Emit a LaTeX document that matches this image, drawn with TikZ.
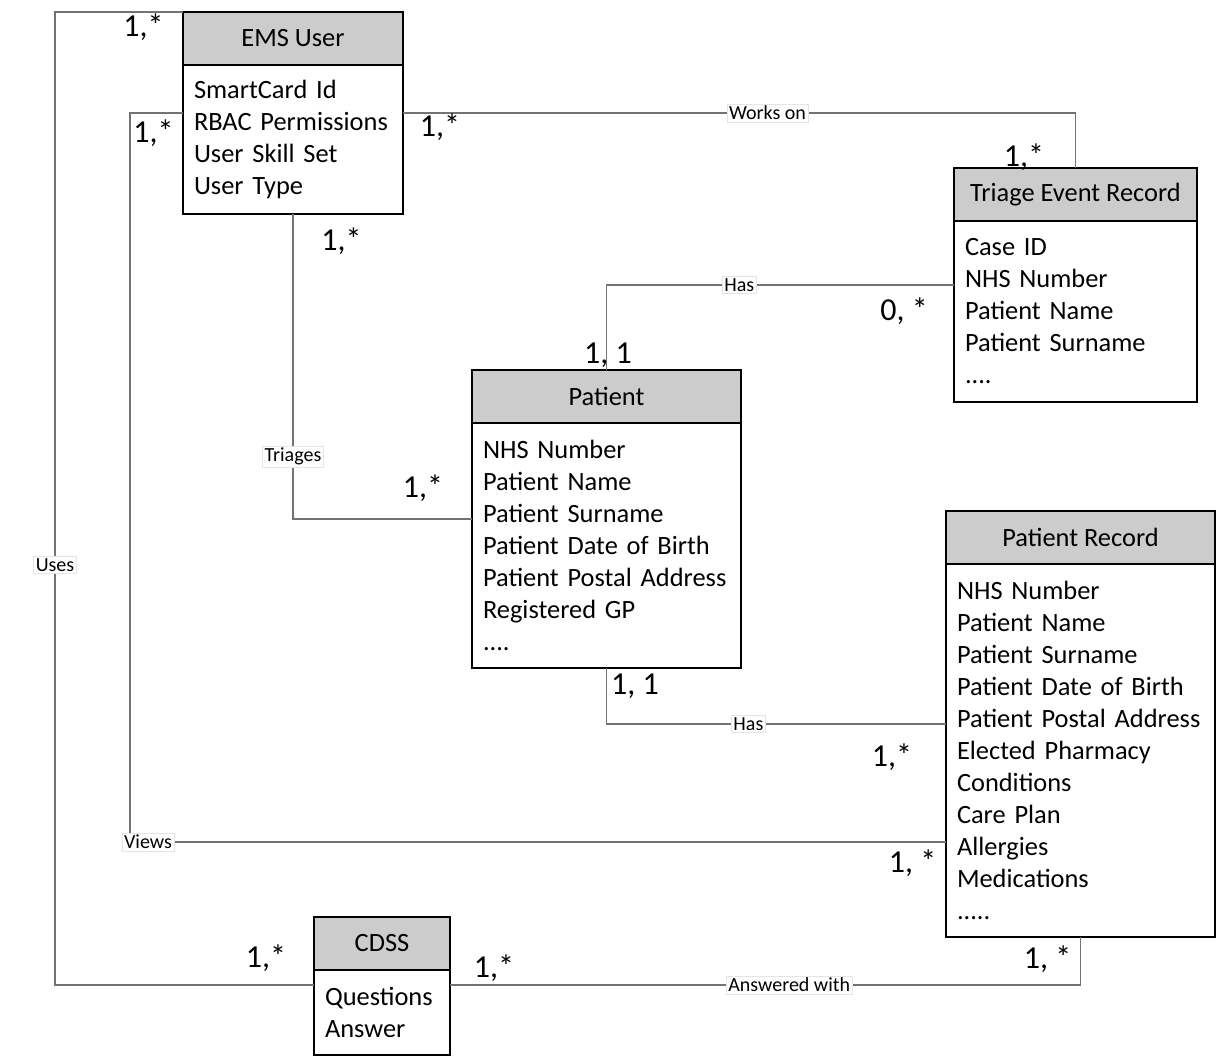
\documentclass[tikz,border=0pt]{standalone}
\usepackage{fontspec}
\setmainfont{Carlito}
\usetikzlibrary{positioning}
\begin{document}
\begin{tikzpicture}[x=0.5pt,y=-0.5pt]
	\tikzset{title/.style = {draw,line width=1pt,fill=black!20,outer sep=0pt,minimum height=26.5pt,font=\fontsize{13.2}{16}\selectfont}}
	\tikzset{attrs/.style = {draw,line width=1pt,fill=white,outer sep=0pt,inner xsep=5.5pt,align=left,font=\fontsize{13.2}{16}\selectfont}}
	\tikzset{conn/.style = {draw=black!55,line width=0.6pt}}
	\tikzset{rel/.style = {fill=white,draw=black!10,line width=0.3pt,inner sep=1pt,font=\fontsize{10}{12}\selectfont}}
	\tikzset{mult/.style = {font=\fontsize{16}{18}\selectfont}}
	\useasboundingbox (0,0) rectangle (1219,1060);
	% entities
	\node[title,minimum width=110pt] (emsT) at (293,38.5) {EMS User};
	\node[attrs,text width=99pt,minimum height=74.5pt,below=0pt of emsT] (emsB) {SmartCard Id\\RBAC Permissions\\User Skill Set\\User Type};
	\node[title,minimum width=121.5pt] (triT) at (1075.5,194.5) {Triage Event Record};
	\node[attrs,text width=110.5pt,minimum height=90.5pt,below=0pt of triT] (triB) {Case ID\\NHS Number\\Patient Name\\Patient Surname\\....};
	\node[title,minimum width=134.5pt] (patT) at (606.5,396.5) {Patient};
	\node[attrs,text width=123.5pt,minimum height=122.5pt,below=0pt of patT] (patB) {NHS Number\\Patient Name\\Patient Surname\\Patient Date of Birth\\Patient Postal Address\\Registered GP\\....};
	\node[title,minimum width=134.5pt] (prT) at (1080.5,537.5) {Patient Record};
	\node[attrs,text width=123.5pt,minimum height=186.5pt,below=0pt of prT] (prB) {NHS Number\\Patient Name\\Patient Surname\\Patient Date of Birth\\Patient Postal Address\\Elected Pharmacy\\Conditions\\Care Plan\\Allergies\\Medications\\.....};
	\node[title,minimum width=68pt] (cdT) at (382,943.5) {CDSS};
	\node[attrs,text width=57pt,minimum height=42.5pt,below=0pt of cdT] (cdB) {Questions\\Answer};
	% relations
	\path[conn] (emsT.north west) -- ++(-128,0) |- node[rel,pos=0.284] {Uses} ([yshift=13.75pt]cdB.west);
	\path[conn] ([yshift=-24pt]emsB.north west) -- ++(-53,0) |- node[rel,pos=0.511] {Views} ([yshift=-45.75pt]prB.west);
	\path[conn] ([yshift=-24pt]emsB.north east) -| node[rel,pos=0.271] {Works on} (triT.north);
	\path[conn] (emsB.south) |- node[rel,pos=0.398] {Triages} ([yshift=13.25pt]patB.west);
	\path[conn] ([yshift=13.25pt]triB.west) -| node[rel,pos=0.309] {Has} (patT.north);
	\path[conn] (patB.south) |- node[rel,pos=0.709] {Has} ([yshift=13.25pt]prB.west);
	\path[conn] ([yshift=13.75pt]cdB.east) -| node[rel,pos=0.269] {Answered with} (prB.south);
	% multiplicities
	\node[mult] (m1) at (143.5,27) {1,*};
	\node[mult] (m2) at (266,958) {1,*};
	\node[mult] (m3) at (153.5,133) {1,*};
	\node[mult] (m4) at (912.5,863) {1, *};
	\node[mult] (m5) at (440,127) {1,*};
	\node[mult] (m6) at (1024,157) {1,*};
	\node[mult] (m7) at (341.5,241) {1,*};
	\node[mult] (m8) at (423,488) {1,*};
	\node[mult] (m9) at (904,311) {0, *};
	\node[mult] (m10) at (608,355) {1, 1};
	\node[mult] (m11) at (635,686) {1, 1};
	\node[mult] (m12) at (892,757) {1,*};
	\node[mult] (m13) at (494,968) {1,*};
	\node[mult] (m14) at (1047.5,959) {1, *};
\end{tikzpicture}
\end{document}
